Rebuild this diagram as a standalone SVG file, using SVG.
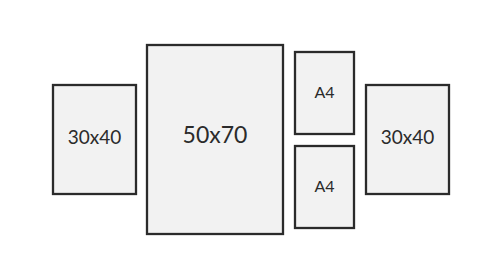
<svg xmlns="http://www.w3.org/2000/svg" width="500" height="280" viewBox="0 0 500 280">
<style>
.frame{fill:#f2f2f2;stroke:#2b2b2b;stroke-width:2.3}
.lbl{font-family:"Lato","Open Sans","Liberation Sans",sans-serif;fill:#2b2b2b;text-anchor:middle}
</style>
<rect width="500" height="280" fill="#ffffff"/>
<g id="frame-left">
<rect class="frame" x="53" y="85" width="83" height="109"/>
<text class="lbl" x="94.5" y="144" font-size="19">30x40</text>
</g>
<g id="frame-big">
<rect class="frame" x="147" y="45" width="136" height="189"/>
<text class="lbl" x="215" y="143" font-size="23">50x70</text>
</g>
<g id="frame-a4-top">
<rect class="frame" x="295" y="52" width="59" height="82"/>
<text class="lbl" x="324.5" y="98" font-size="16">A4</text>
</g>
<g id="frame-a4-bottom">
<rect class="frame" x="295" y="146" width="59" height="82"/>
<text class="lbl" x="324.5" y="192" font-size="16">A4</text>
</g>
<g id="frame-right">
<rect class="frame" x="366" y="85" width="83" height="109"/>
<text class="lbl" x="407.5" y="144" font-size="19">30x40</text>
</g>
<g id="connectors"></g>
</svg>
